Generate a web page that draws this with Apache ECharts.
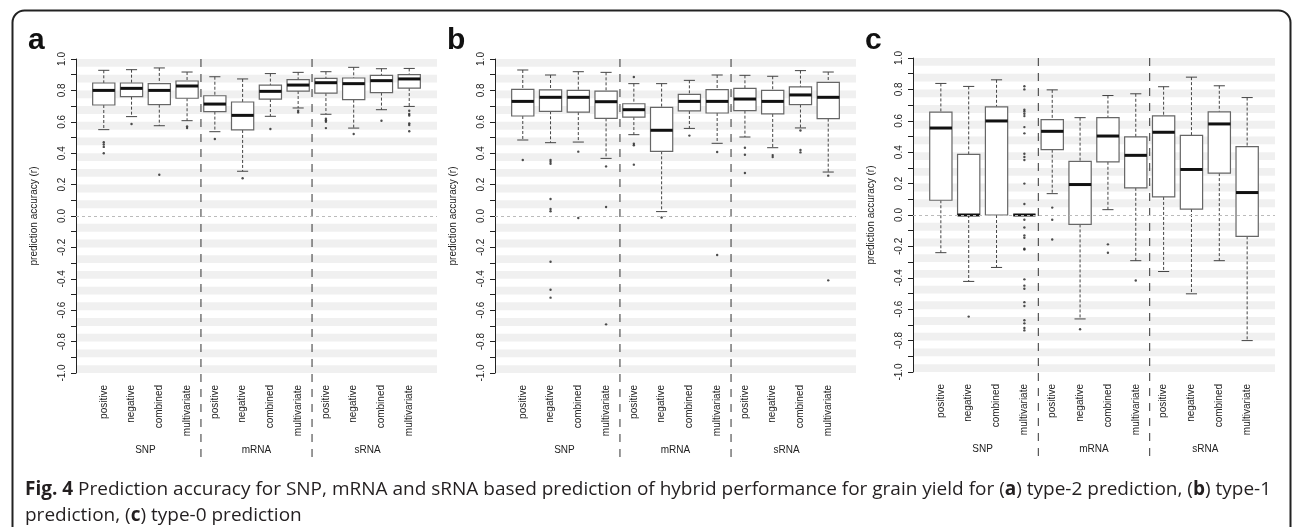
<!DOCTYPE html>
<html>
<head>
<meta charset="utf-8">
<script src="https://cdn.jsdelivr.net/npm/echarts@6/dist/echarts.min.js"></script>
<style>
  html, body { margin: 0; padding: 0; background: #fff; }
  #fig { width: 1292px; height: 527px; }
</style>
</head>
<body>
<div id="fig"></div>
<script>
// x labels (one per box) and the three data groups
var categories = ['positive', 'negative', 'combined', 'multivariate',
                  'positive', 'negative', 'combined', 'multivariate',
                  'positive', 'negative', 'combined', 'multivariate'];
var groups = ['SNP', 'mRNA', 'sRNA'];

// box stats per category: [lower whisker, Q1, median, Q3, upper whisker]
var boxesA = [
    [0.550, 0.707, 0.800, 0.847, 0.928],
    [0.633, 0.760, 0.813, 0.847, 0.932],
    [0.575, 0.709, 0.800, 0.843, 0.943],
    [0.607, 0.750, 0.828, 0.860, 0.917],
    [0.537, 0.665, 0.713, 0.766, 0.887],
    [0.285, 0.548, 0.641, 0.726, 0.873],
    [0.635, 0.745, 0.794, 0.834, 0.907],
    [0.688, 0.796, 0.834, 0.868, 0.915],
    [0.648, 0.783, 0.849, 0.877, 0.919],
    [0.560, 0.741, 0.843, 0.879, 0.947],
    [0.677, 0.786, 0.862, 0.896, 0.938],
    [0.698, 0.815, 0.873, 0.900, 0.940]
];
var boxesB = [
    [0.484, 0.637, 0.730, 0.807, 0.930],
    [0.467, 0.667, 0.756, 0.803, 0.898],
    [0.471, 0.662, 0.756, 0.800, 0.919],
    [0.367, 0.622, 0.728, 0.796, 0.915],
    [0.518, 0.630, 0.677, 0.715, 0.843],
    [0.028, 0.412, 0.546, 0.692, 0.843],
    [0.558, 0.669, 0.730, 0.775, 0.864],
    [0.463, 0.656, 0.730, 0.805, 0.898],
    [0.503, 0.671, 0.745, 0.813, 0.896],
    [0.435, 0.650, 0.730, 0.800, 0.890],
    [0.561, 0.710, 0.771, 0.822, 0.926],
    [0.280, 0.620, 0.756, 0.851, 0.917]
];
var boxesC = [
    [-0.240, 0.094, 0.554, 0.655, 0.838],
    [-0.423, 0.000, 0.000, 0.386, 0.819],
    [-0.334, 0.000, 0.599, 0.689, 0.861],
    [0.000, 0.000, 0.000, 0.000, 0.000],
    [0.136, 0.416, 0.533, 0.607, 0.797],
    [-0.662, -0.060, 0.194, 0.341, 0.620],
    [0.034, 0.339, 0.503, 0.620, 0.761],
    [-0.291, 0.173, 0.380, 0.497, 0.772],
    [-0.360, 0.115, 0.527, 0.631, 0.817],
    [-0.502, 0.038, 0.290, 0.507, 0.878],
    [-0.291, 0.267, 0.580, 0.657, 0.823],
    [-0.800, -0.136, 0.143, 0.435, 0.748]
];

// outliers: [category number (1-12), value]
var outliersA = [
    [1, 0.470], [1, 0.455], [1, 0.440], [1, 0.400],
    [2, 0.586], [3, 0.263], [4, 0.570], [4, 0.560],
    [5, 0.490], [6, 0.240], [7, 0.554], [8, 0.670], [8, 0.660],
    [9, 0.620], [9, 0.610], [9, 0.600], [9, 0.560],
    [10, 0.522], [11, 0.607],
    [12, 0.670], [12, 0.650], [12, 0.640], [12, 0.590], [12, 0.580], [12, 0.540]
];
var outliersB = [
    [1, 0.357],
    [2, 0.357], [2, 0.345], [2, 0.333], [2, 0.108], [2, 0.045], [2, 0.030],
    [2, -0.291], [2, -0.470], [2, -0.520],
    [3, 0.410], [3, -0.013],
    [4, 0.316], [4, 0.057], [4, -0.690],
    [5, 0.885], [5, 0.460], [5, 0.450], [5, 0.327],
    [6, -0.010], [7, 0.512], [8, 0.408], [8, -0.248],
    [9, 0.435], [9, 0.390], [9, 0.274],
    [10, 0.388], [10, 0.376],
    [11, 0.545], [11, 0.420], [11, 0.405],
    [12, 0.257], [12, -0.410]
];
var outliersC = [
    [2, -0.647],
    [4, 0.820], [4, 0.800], [4, 0.670], [4, 0.660], [4, 0.645], [4, 0.630],
    [4, 0.560], [4, 0.520], [4, 0.390], [4, 0.370], [4, 0.350], [4, 0.200],
    [4, 0.070], [4, -0.030], [4, -0.080], [4, -0.130], [4, -0.145], [4, -0.215],
    [4, -0.220], [4, -0.410], [4, -0.450], [4, -0.470], [4, -0.555], [4, -0.580],
    [4, -0.670], [4, -0.690], [4, -0.720], [4, -0.735],
    [5, 0.047], [5, -0.030], [5, -0.156],
    [6, -0.728], [7, -0.187], [7, -0.240], [8, -0.417]
];

var caption1 = '{b|Fig. 4} Prediction accuracy for SNP, mRNA and sRNA based prediction of hybrid performance for grain yield for ({b|a}) type-2 prediction, ({b|b}) type-1';
var caption2 = 'prediction, ({b|c}) type-0 prediction';

var panels = [
    {letter: 'a', left: 76, top: 59, width: 361, boxes: boxesA, outliers: outliersA},
    {letter: 'b', left: 495, top: 59, width: 361, boxes: boxesB, outliers: outliersB},
    {letter: 'c', left: 913, top: 58, width: 362, boxes: boxesC, outliers: outliersC}
];

var fontFam = '"Liberation Sans", Arial, sans-serif';
var capFont = '"Open Sans", sans-serif';

// alternating grey bands, symmetric around zero
var bands = [];
for (var k = 1; k <= 10; k++) {
    bands.push([(2 * k - 1) * 0.05, 2 * k * 0.05]);
    bands.push([-2 * k * 0.05, -(2 * k - 1) * 0.05]);
}
var separators = [];
for (var g = 1; g < groups.length; g++) separators.push([g * 4 + 0.5]);

function renderBand(params, api) {
    var cs = params.coordSys;
    var top = api.coord([0, api.value(1)]);
    var bot = api.coord([0, api.value(0)]);
    return {
        type: 'rect',
        shape: {x: cs.x, y: top[1], width: cs.width, height: bot[1] - top[1]},
        style: {fill: '#f0f0f0'}
    };
}

function renderSeparator(params, api) {
    var x = api.value(0);
    var top = api.coord([x, 1]);
    var bot = api.coord([x, -1]);
    return {
        type: 'line',
        shape: {x1: top[0], y1: top[1], x2: bot[0], y2: bot[1] + 84},
        style: {stroke: '#333', lineWidth: 1, lineDash: [8, 7]}
    };
}

function renderBox(params, api) {
    var x = api.value(0);
    var lo = api.coord([x, api.value(1)]);
    var q1 = api.coord([x, api.value(2)]);
    var md = api.coord([x, api.value(3)]);
    var q3 = api.coord([x, api.value(4)]);
    var hi = api.coord([x, api.value(5)]);
    var w = api.size([1, 0])[0] * 0.8;
    var cap = w * 0.5;
    var whisker = {stroke: '#444', lineWidth: 1, lineDash: [3, 2]};
    var solid = {stroke: '#444', lineWidth: 1};
    return {
        type: 'group',
        children: [
            {type: 'line', shape: {x1: hi[0], y1: hi[1], x2: q3[0], y2: q3[1]}, style: whisker},
            {type: 'line', shape: {x1: q1[0], y1: q1[1], x2: lo[0], y2: lo[1]}, style: whisker},
            {type: 'line', shape: {x1: hi[0] - cap / 2, y1: hi[1], x2: hi[0] + cap / 2, y2: hi[1]}, style: solid},
            {type: 'line', shape: {x1: lo[0] - cap / 2, y1: lo[1], x2: lo[0] + cap / 2, y2: lo[1]}, style: solid},
            {type: 'rect', shape: {x: q3[0] - w / 2, y: q3[1], width: w, height: q1[1] - q3[1]},
             style: {fill: '#fff', stroke: '#666', lineWidth: 1.2}},
            {type: 'line', shape: {x1: md[0] - w / 2, y1: md[1], x2: md[0] + w / 2, y2: md[1]},
             style: {stroke: '#111', lineWidth: 3}}
        ]
    };
}

var grid = [], xAxis = [], yAxis = [], series = [], graphic = [];

panels.forEach(function (p, i) {
    grid.push({left: p.left, top: p.top, width: p.width, height: 314});

    // box labels
    xAxis.push({
        type: 'value', gridIndex: i, position: 'bottom', min: 0, max: 13, interval: 1,
        axisLine: {show: false}, axisTick: {show: false}, splitLine: {show: false},
        axisLabel: {
            rotate: 90, margin: 12, fontSize: 10, color: '#222', fontFamily: fontFam,
            formatter: function (v) { return categories[v - 1] || ''; }
        }
    });
    // group labels
    xAxis.push({
        type: 'value', gridIndex: i, position: 'bottom', min: 0, max: 13, interval: 0.5,
        axisLine: {show: false}, axisTick: {show: false}, splitLine: {show: false},
        axisLabel: {
            margin: 72, fontSize: 10, color: '#222', fontFamily: fontFam,
            formatter: function (v) {
                var gi = (v - 2.5) / 4;
                return (gi >= 0 && gi < groups.length && gi === Math.round(gi)) ? groups[gi] : '';
            }
        }
    });
    yAxis.push({
        type: 'value', gridIndex: i, min: -1, max: 1, interval: 0.1,
        name: 'prediction accuracy (r)', nameLocation: 'middle', nameGap: 37, nameRotate: 90,
        nameTextStyle: {fontSize: 10, color: '#222', fontFamily: fontFam},
        axisLine: {show: true, lineStyle: {color: '#222', width: 1}},
        axisTick: {show: true, length: 5, lineStyle: {color: '#222'}},
        splitLine: {show: false},
        axisLabel: {
            rotate: 90, margin: 9, fontSize: 10, color: '#222', fontFamily: fontFam,
            formatter: function (v) {
                var t = Math.round(v * 10);
                return t % 2 === 0 ? (t / 10).toFixed(1) : '';
            }
        }
    });

    series.push({
        type: 'custom', xAxisIndex: 2 * i, yAxisIndex: i, z: 0, silent: true,
        renderItem: renderBand, data: bands,
        markLine: {
            silent: true, symbol: 'none', label: {show: false},
            lineStyle: {color: '#bbb', type: [3, 3], width: 1},
            data: [{yAxis: 0}]
        }
    });
    series.push({
        type: 'custom', xAxisIndex: 2 * i, yAxisIndex: i, z: 1, silent: true, clip: false,
        renderItem: renderSeparator, data: separators
    });
    series.push({
        type: 'custom', xAxisIndex: 2 * i, yAxisIndex: i, z: 2, silent: true,
        renderItem: renderBox,
        data: p.boxes.map(function (b, j) { return [j + 1].concat(b); })
    });
    series.push({
        type: 'scatter', xAxisIndex: 2 * i, yAxisIndex: i, z: 3, silent: true,
        symbol: 'circle', symbolSize: 2.4, itemStyle: {color: '#222'},
        data: p.outliers
    });

    graphic.push({
        type: 'text', left: p.left - 48, top: 26,
        style: {text: p.letter, fontSize: 30, fontWeight: 'bold', fill: '#111', fontFamily: fontFam}
    });
});

graphic.push({
    type: 'rect', left: 10, top: 8, silent: true,
    shape: {width: 1278, height: 560, r: 12},
    style: {fill: 'none', stroke: '#222', lineWidth: 2}
});
graphic.push({
    type: 'text', left: 25, top: 480,
    style: {
        text: caption1, fontSize: 19, fontFamily: capFont, fill: '#231f20',
        rich: {b: {fontWeight: 'bold', fontSize: 19, fontFamily: capFont, fill: '#231f20'}}
    }
});
graphic.push({
    type: 'text', left: 25, top: 506,
    style: {
        text: caption2, fontSize: 19, fontFamily: capFont, fill: '#231f20',
        rich: {b: {fontWeight: 'bold', fontSize: 19, fontFamily: capFont, fill: '#231f20'}}
    }
});

var chart = echarts.init(document.getElementById('fig'));
chart.setOption({
    animation: false,
    backgroundColor: '#fff',
    grid: grid,
    xAxis: xAxis,
    yAxis: yAxis,
    series: series,
    graphic: graphic
});
</script>
</body>
</html>
